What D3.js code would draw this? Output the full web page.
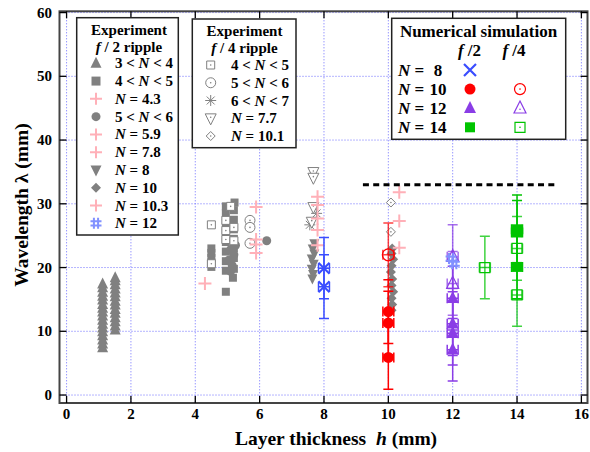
<!DOCTYPE html>
<html>
<head>
<meta charset="utf-8">
<script src="https://cdn.jsdelivr.net/npm/d3@7"></script>
<style>
  html, body { margin: 0; padding: 0; background: #fff; }
  svg text { font-family: "Liberation Serif", "Times New Roman", serif; font-weight: bold; white-space: pre; }
</style>
</head>
<body>
<svg id="chart" width="590" height="452"></svg>
<script>
// ---------- Experimental data, f/2 ripple: [h (mm), wavelength (mm)] ----------
const f2_N3to4 = [
  [1.12, 7.4], [1.12, 8.0], [1.12, 8.6], [1.12, 9.3], [1.12, 9.9], [1.12, 10.5], [1.12, 11.1],
  [1.12, 11.7], [1.12, 12.4], [1.12, 13.0], [1.12, 13.6], [1.12, 14.2], [1.12, 14.9],
  [1.12, 15.5], [1.12, 16.1], [1.12, 16.8], [1.12, 17.4],
  [1.51, 10.2], [1.51, 10.8], [1.51, 11.5], [1.51, 12.1], [1.51, 12.8], [1.51, 13.4],
  [1.51, 14.1], [1.51, 14.7], [1.51, 15.4], [1.51, 16.0], [1.51, 16.6], [1.51, 17.3],
  [1.51, 17.9], [1.51, 18.4]
];
const f2_N4to5 = [
  [4.5, 20.1], [4.5, 20.8], [4.5, 21.5], [4.5, 22.3], [4.5, 23.0],
  [4.95, 16.2], [4.95, 19.5], [4.95, 21.0], [4.95, 22.5], [4.95, 24.0], [4.95, 25.5],
  [4.95, 27.0], [4.95, 28.5], [4.95, 29.6],
  [5.17, 18.4], [5.2, 19.8], [5.2, 21.5], [5.2, 23.0], [5.2, 24.5], [5.2, 26.0],
  [5.2, 27.5], [5.2, 29.0], [5.22, 30.2]
];
const f2_N4_3 = [[4.3, 17.5]];
const f2_N5to6 = [
  [5.1, 19.4], [5.15, 20.3], [5.05, 21.2], [5.2, 22.0], [5.1, 22.8], [5.25, 23.5],
  [5.7, 26.7], [6.22, 24.2]
];
const f2_N5_9 = [[5.89, 29.5], [5.89, 24.4], [5.89, 23.6], [5.89, 22.3]];
const f2_N7_8 = [[7.8, 31.1], [7.8, 29.8], [7.8, 27.7], [7.8, 25.9], [7.8, 23.5]];
const f2_N8 = [
  [7.7, 23.8], [7.65, 23.0], [7.7, 22.2], [7.62, 21.4], [7.68, 20.6], [7.62, 19.8],
  [7.66, 19.0], [7.64, 18.3]
];
const f2_N10 = [
  [10.12, 23.0], [10.1, 22.2], [10.15, 21.3], [10.1, 20.3], [10.08, 19.3], [10.12, 18.2],
  [10.1, 17.2], [10.15, 16.2], [10.1, 15.2], [10.12, 14.2], [10.1, 13.3]
];
const f2_N10_3 = [[10.34, 31.8], [10.34, 27.3], [10.34, 23.1]];
const f2_N12 = [[11.95, 21.4], [12.05, 20.6]];

// ---------- Experimental data, f/4 ripple ----------
const f4_N4to5 = [
  [4.5, 26.7], [4.5, 20.6], [4.95, 27.4], [4.95, 25.8], [4.95, 24.4],
  [5.2, 26.3], [5.2, 24.2], [5.1, 29.6]
];
const f4_N5to6 = [[5.7, 27.4], [5.7, 26.3], [5.7, 23.8]];
const f4_N6to7 = [[7.77, 28.5], [7.56, 26.7]];
const f4_N7_7 = [[7.67, 35.0], [7.67, 34.1], [7.67, 29.5], [7.62, 27.2]];
const f4_N10_1 = [[10.08, 30.2], [10.08, 25.6]];

// ---------- Numerical simulation: [h (mm), wavelength (mm), error (mm)] ----------
const sim_N8_f2 = [[8.0, 19.9, 4.8], [8.0, 17.0, 5.0]];
const sim_N10_f2 = [[10.0, 13.1, 5.0], [10.0, 11.3, 5.0], [10.0, 5.9, 5.0]];
const sim_N10_f4 = [[10.0, 22.0, 5.0]];
const sim_N12_f2 = [[12.0, 15.2, 5.0], [12.0, 11.2, 5.0], [12.0, 9.7, 5.0], [12.0, 7.1, 4.9]];
const sim_N12_f4 = [[12.0, 21.7, 5.0], [12.0, 17.5, 5.0]];
const sim_N14_f2 = [[14.0, 26.0, 5.4], [14.0, 25.5, 5.0], [14.0, 20.1, 5.0]];
const sim_N14_f4 = [[13.0, 20.0, 4.9], [14.0, 23.0, 5.0], [14.0, 15.7, 4.9]];
const hErr = 0.17;

// Reference level (dashed line)
const refLine = { x0: 9.21, x1: 15.18, y: 33.0 };

// Axis ticks
const xTicks = [0, 2, 4, 6, 8, 10, 12, 14, 16];
const yTicks = [0, 10, 20, 30, 40, 50, 60];

// ---------- Colours ----------
const GRAY = "#808080", PINK = "#ffb0b8", BLUE = "#3a4dff", LBLUE = "#8191ff";
const RED = "#ff0000", PURPLE = "#8a3de6", GREEN = "#00c400";

const svg = d3.select("#chart");
const frame = { l: 59.5, r: 587.5, t: 11.3, b: 403 };
const x = d3.scaleLinear().domain([-0.22, 16.19]).range([frame.l, frame.r]);
const y = d3.scaleLinear().domain([-1.25, 60.2]).range([frame.b, frame.t]);

// ---------- Marker shapes (centred at 0,0, s = nominal size in px) ----------
function markerPath(type, s) {
  const h = s / 2;
  switch (type) {
    case "triUp":   return `M0,${-s * 0.6}L${h},${s * 0.4}L${-h},${s * 0.4}Z`;
    case "triDown": return `M0,${s * 0.6}L${h},${-s * 0.4}L${-h},${-s * 0.4}Z`;
    case "square":  return `M${-h},${-h}h${s}v${s}h${-s}Z`;
    case "circle":  return `M${h},0A${h},${h} 0 1,1 ${-h},0A${h},${h} 0 1,1 ${h},0Z`;
    case "diamond": return `M0,${-h}L${h},0L0,${h}L${-h},0Z`;
    case "plus":    return `M${-h},0H${h}M0,${-h}V${h}`;
    case "x":       return `M${-h},${-h}L${h},${h}M${-h},${h}L${h},${-h}`;
    case "asterisk":
      return `M${-h},0H${h}M0,${-h}V${h}M${-h * 0.72},${-h * 0.72}L${h * 0.72},${h * 0.72}M${-h * 0.72},${h * 0.72}L${h * 0.72},${-h * 0.72}`;
    case "hash": {
      const a = h * 0.38;
      return `M${-a},${-h}V${h}M${a},${-h}V${h}M${-h},${-a}H${h}M${-h},${a}H${h}`;
    }
  }
}
const strokeOnly = new Set(["plus", "x", "asterisk", "hash"]);

// style: {type, size, color, open, sw, fill}
function drawMarker(g, cx, cy, st) {
  const p = g.append("path")
    .attr("transform", `translate(${cx},${cy})`)
    .attr("d", markerPath(st.type, st.size));
  if (strokeOnly.has(st.type)) {
    p.attr("fill", "none").attr("stroke", st.color).attr("stroke-width", st.sw || 1.8);
  } else if (st.open) {
    p.attr("fill", st.fill || "#fff").attr("stroke", st.color).attr("stroke-width", st.sw || 1);
    g.append("circle").attr("cx", cx).attr("cy", cy + (st.type === "triUp" ? 1 : st.type === "triDown" ? -1 : 0))
      .attr("r", 0.8).attr("fill", st.color);
  } else {
    p.attr("fill", st.color).attr("stroke", "none");
  }
}

// ---------- Grid ----------
const grid = svg.append("g");
xTicks.forEach(t => grid.append("line")
  .attr("x1", x(t)).attr("x2", x(t)).attr("y1", frame.t).attr("y2", frame.b)
  .attr("stroke", "#6a6aff").attr("stroke-width", 1).attr("stroke-dasharray", "1,2"));
yTicks.forEach(t => grid.append("line")
  .attr("x1", frame.l).attr("x2", frame.r).attr("y1", y(t)).attr("y2", y(t))
  .attr("stroke", "#6a6aff").attr("stroke-width", 1).attr("stroke-dasharray", "1,2"));

// ---------- Experimental series ----------
const expSeries = [
  { data: f2_N3to4, st: { type: "triUp", size: 11, color: GRAY } },
  { data: f2_N4to5, st: { type: "square", size: 8, color: GRAY } },
  { data: f2_N5to6, st: { type: "circle", size: 9, color: GRAY } },
  { data: f2_N8, st: { type: "triDown", size: 10, color: GRAY } },
  { data: f2_N10, st: { type: "diamond", size: 10, color: GRAY } },
  { data: f4_N4to5, st: { type: "square", size: 8, color: GRAY, open: true } },
  { data: f4_N5to6, st: { type: "circle", size: 10, color: GRAY, open: true } },
  { data: f4_N6to7, st: { type: "asterisk", size: 11, color: GRAY, sw: 1 } },
  { data: f4_N7_7, st: { type: "triDown", size: 11, color: GRAY, open: true } },
  { data: f4_N10_1, st: { type: "diamond", size: 9, color: GRAY, open: true } },
  { data: f2_N4_3, st: { type: "plus", size: 13, color: PINK, sw: 2 } },
  { data: f2_N5_9, st: { type: "plus", size: 13, color: PINK, sw: 2 } },
  { data: f2_N7_8, st: { type: "plus", size: 13, color: PINK, sw: 2 } },
  { data: f2_N10_3, st: { type: "plus", size: 13, color: PINK, sw: 2 } }
];
const gExp = svg.append("g");
expSeries.forEach(s => s.data.forEach(d => drawMarker(gExp, x(d[0]), y(d[1]), s.st)));

// ---------- Numerical simulation with error bars ----------
const simSeries = [
  { data: sim_N8_f2, st: { type: "x", size: 11, color: BLUE, sw: 2 } },
  { data: sim_N10_f4, st: { type: "circle", size: 12, color: RED, open: true, fill: "none", sw: 1.2 } },
  { data: sim_N10_f2, st: { type: "circle", size: 11, color: RED } },
  { data: sim_N12_f4, st: { type: "triUp", size: 12, color: PURPLE, open: true, fill: "none", sw: 1.2 } },
  { data: sim_N12_f2, st: { type: "triUp", size: 12, color: PURPLE } },
  { data: sim_N14_f4, st: { type: "square", size: 10, color: GREEN, open: true, fill: "none", sw: 1.2 } },
  { data: sim_N14_f2, st: { type: "square", size: 10, color: GREEN } }
];
const gSim = svg.append("g");
const cap = 5;
simSeries.forEach(s => s.data.forEach(d => {
  const cx = x(d[0]), cy = y(d[1]);
  const yt = y(d[1] + d[2]), yb = y(d[1] - d[2]);
  const xl = x(d[0] - hErr), xr = x(d[0] + hErr);
  const col = s.st.color;
  const path = `M${cx},${yt}V${yb}M${cx - cap},${yt}H${cx + cap}M${cx - cap},${yb}H${cx + cap}` +
               `M${xl},${cy}H${xr}M${xl},${cy - cap}V${cy + cap}M${xr},${cy - cap}V${cy + cap}`;
  gSim.append("path").attr("d", path).attr("fill", "none")
    .attr("stroke", col).attr("stroke-width", 1.5).attr("stroke-opacity", s.st.open ? 0.75 : 1);
}));
simSeries.forEach(s => s.data.forEach(d => drawMarker(gSim, x(d[0]), y(d[1]), s.st)));

// N = 12 experiment on top
f2_N12.forEach(d => drawMarker(svg, x(d[0]), y(d[1]), { type: "hash", size: 11, color: LBLUE, sw: 2 }));

// Dashed reference line
svg.append("line")
  .attr("x1", x(refLine.x0)).attr("x2", x(refLine.x1))
  .attr("y1", y(refLine.y)).attr("y2", y(refLine.y))
  .attr("stroke", "#000").attr("stroke-width", 3).attr("stroke-dasharray", "6,4.3");

// ---------- Frame, ticks, labels ----------
svg.append("rect").attr("x", frame.l).attr("y", frame.t)
  .attr("width", frame.r - frame.l).attr("height", frame.b - frame.t)
  .attr("fill", "none").attr("stroke", "#444").attr("stroke-width", 2);

const tl = 7;
const ticks = svg.append("g").attr("stroke", "#000").attr("stroke-width", 1.3);
xTicks.forEach(t => {
  ticks.append("line").attr("x1", x(t)).attr("x2", x(t)).attr("y1", frame.b).attr("y2", frame.b - tl);
  ticks.append("line").attr("x1", x(t)).attr("x2", x(t)).attr("y1", frame.t).attr("y2", frame.t + tl);
});
yTicks.forEach(t => {
  ticks.append("line").attr("x1", frame.l).attr("x2", frame.l + tl).attr("y1", y(t)).attr("y2", y(t));
  ticks.append("line").attr("x1", frame.r).attr("x2", frame.r - tl).attr("y1", y(t)).attr("y2", y(t));
});

svg.append("g").selectAll("text").data(xTicks).join("text")
  .attr("x", d => x(d)).attr("y", 419).attr("text-anchor", "middle")
  .attr("font-size", 15).text(d => d);
svg.append("g").selectAll("text").data(yTicks).join("text")
  .attr("x", 52).attr("y", d => y(d) + 5).attr("text-anchor", "end")
  .attr("font-size", 15).text(d => d);

// Axis titles
const xt = svg.append("text").attr("x", 336).attr("y", 445).attr("text-anchor", "middle").attr("font-size", 19.5);
xt.append("tspan").text("Layer thickness  ");
xt.append("tspan").attr("font-style", "italic").text("h");
xt.append("tspan").text(" (mm)");
svg.append("text").attr("transform", "translate(28,205) rotate(-90)")
  .attr("text-anchor", "middle").attr("font-size", 19.5).text("Wavelength λ (mm)");

// Helper for labels with italic N
function label(g, tx, ty, parts, size) {
  const t = g.append("text").attr("x", tx).attr("y", ty).attr("font-size", size);
  parts.forEach(p => {
    const s = t.append("tspan").text(p.t);
    if (p.i) s.attr("font-style", "italic");
  });
  return t;
}
function rangeLabel(a, b) { return [{ t: `${a} < ` }, { t: "N", i: true }, { t: ` < ${b}` }]; }
function eqLabel(v) { return [{ t: "N", i: true }, { t: ` = ${v}` }]; }

// ---------- Legend 1: f/2 ripple experiments ----------
const legend1 = [
  { st: { type: "triUp", size: 11, color: GRAY }, lab: rangeLabel(3, 4) },
  { st: { type: "square", size: 9, color: GRAY }, lab: rangeLabel(4, 5) },
  { st: { type: "plus", size: 12, color: PINK, sw: 2 }, lab: eqLabel("4.3") },
  { st: { type: "circle", size: 9, color: GRAY }, lab: rangeLabel(5, 6) },
  { st: { type: "plus", size: 12, color: PINK, sw: 2 }, lab: eqLabel("5.9") },
  { st: { type: "plus", size: 12, color: PINK, sw: 2 }, lab: eqLabel("7.8") },
  { st: { type: "triDown", size: 11, color: GRAY }, lab: eqLabel("8") },
  { st: { type: "diamond", size: 10, color: GRAY }, lab: eqLabel("10") },
  { st: { type: "plus", size: 12, color: PINK, sw: 2 }, lab: eqLabel("10.3") },
  { st: { type: "hash", size: 11, color: LBLUE, sw: 2 }, lab: eqLabel("12") }
];
const L1 = svg.append("g");
L1.append("rect").attr("x", 76.7).attr("y", 17.7).attr("width", 101.6).attr("height", 217.3)
  .attr("fill", "#fff").attr("stroke", "#222").attr("stroke-width", 1.5);
L1.append("text").attr("x", 129).attr("y", 35).attr("text-anchor", "middle").attr("font-size", 15).text("Experiment");
label(L1, 129, 52, [{ t: "f", i: true }, { t: " / 2 ripple" }], 15).attr("text-anchor", "middle");
legend1.forEach((it, i) => {
  const cy = 63.3 + i * 17.78;
  drawMarker(L1, 96, cy, it.st);
  label(L1, 115, cy + 5, it.lab, 15);
});

// ---------- Legend 2: f/4 ripple experiments ----------
const legend2 = [
  { st: { type: "square", size: 8, color: GRAY, open: true }, lab: rangeLabel(4, 5) },
  { st: { type: "circle", size: 10, color: GRAY, open: true }, lab: rangeLabel(5, 6) },
  { st: { type: "asterisk", size: 11, color: GRAY, sw: 1 }, lab: rangeLabel(6, 7) },
  { st: { type: "triDown", size: 11, color: GRAY, open: true }, lab: eqLabel("7.7") },
  { st: { type: "diamond", size: 9, color: GRAY, open: true }, lab: eqLabel("10.1") }
];
const L2 = svg.append("g");
L2.append("rect").attr("x", 192.3).attr("y", 19).attr("width", 103.7).attr("height", 128.7)
  .attr("fill", "#fff").attr("stroke", "#222").attr("stroke-width", 1.5);
L2.append("text").attr("x", 244.5).attr("y", 36).attr("text-anchor", "middle").attr("font-size", 15).text("Experiment");
label(L2, 244.5, 53, [{ t: "f", i: true }, { t: " / 4 ripple" }], 15).attr("text-anchor", "middle");
legend2.forEach((it, i) => {
  const cy = 65 + i * 17.75;
  drawMarker(L2, 210.7, cy, it.st);
  label(L2, 231, cy + 5, it.lab, 15);
});

// ---------- Legend 3: numerical simulation ----------
const legend3 = [
  { n: "8", f2: { type: "x", size: 12, color: BLUE, sw: 2.2 }, f4: null },
  { n: "10", f2: { type: "circle", size: 11, color: RED }, f4: { type: "circle", size: 11, color: RED, open: true, sw: 1.2 } },
  { n: "12", f2: { type: "triUp", size: 12, color: PURPLE }, f4: { type: "triUp", size: 12, color: PURPLE, open: true, sw: 1.2 } },
  { n: "14", f2: { type: "square", size: 10, color: GREEN }, f4: { type: "square", size: 10, color: GREEN, open: true, sw: 1.2 } }
];
const L3 = svg.append("g");
L3.append("rect").attr("x", 391.7).attr("y", 18.3).attr("width", 174).attr("height", 121)
  .attr("fill", "#fff").attr("stroke", "#222").attr("stroke-width", 1.5);
L3.append("text").attr("x", 478.5).attr("y", 37).attr("text-anchor", "middle").attr("font-size", 17).text("Numerical simulation");
label(L3, 469.5, 56, [{ t: "f", i: true }, { t: " /2" }], 17).attr("text-anchor", "middle");
label(L3, 514, 56, [{ t: "f", i: true }, { t: " /4" }], 17).attr("text-anchor", "middle");
legend3.forEach((it, i) => {
  const cy = 70 + i * 19.1;
  label(L3, 398, cy + 6, [{ t: "N", i: true }, { t: " =" }], 17);
  L3.append("text").attr("x", 438).attr("y", cy + 6).attr("text-anchor", "middle").attr("font-size", 17).text(it.n);
  drawMarker(L3, 470, cy, it.f2);
  if (it.f4) drawMarker(L3, 520, cy, Object.assign({ fill: "#fff" }, it.f4));
});
</script>
</body>
</html>
